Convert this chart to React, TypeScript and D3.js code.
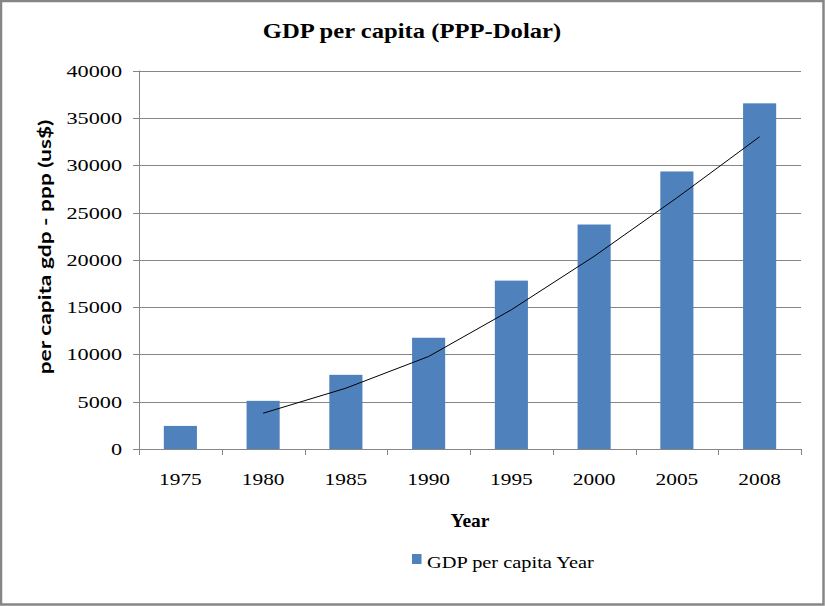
import React from 'react';
import * as d3 from 'd3';

// values
const years: string[] = ['1975', '1980', '1985', '1990', '1995', '2000', '2005', '2008'];
const gdpPerCapita: number[] = [2440, 5090, 7840, 11760, 17800, 23730, 29340, 36540];
// 2-period moving average trendline, starts at 1980
const trendYears: string[] = ['1980', '1985', '1990', '1995', '2000', '2005', '2008'];
const trendValues: number[] = [3780, 6430, 9780, 14720, 20370, 26550, 33010];
const yTicks: number[] = [0, 5000, 10000, 15000, 20000, 25000, 30000, 35000, 40000];

const W = 825;
const H = 606;
const plot = { left: 139, right: 801, top: 70.6, bottom: 449 };
const serif = '"Times New Roman", "Liberation Serif", serif';
const grey = '#868686';
const barColor = '#4F81BD';

// the text in the picture is a bit wide, so stretch it horizontally
const Txt: React.FC<{ x: number; y: number; sx?: number; size: number; bold?: boolean; anchor?: string; family?: string; children: React.ReactNode }> =
  ({ x, y, sx = 1.2, size, bold, anchor = 'middle', family = serif, children }) => (
    <text transform={`translate(${x},${y}) scale(${sx},1)`} fontFamily={family} fontSize={size}
      fontWeight={bold ? 'bold' : 'normal'} textAnchor={anchor} fill="#000">{children}</text>
  );

export default function App() {
  const x = d3.scaleBand<string>().domain(years).range([plot.left, plot.right]).paddingInner(0).paddingOuter(0);
  const y = d3.scaleLinear().domain([0, 40000]).range([plot.bottom, plot.top]);
  const barW = x.bandwidth() * 0.4;
  const cx = (c: string) => (x(c) as number) + x.bandwidth() / 2;

  const trend = d3.line<number>()
    .x((_, i) => cx(trendYears[i]))
    .y(d => y(d));

  const boundaries = years.map(c => x(c) as number).concat([plot.right]);

  return (
    <svg width={W} height={H} style={{ position: 'absolute', left: 0, top: 0, background: '#fff' }}>
      <rect x={1} y={1} width={W - 2.5} height={H - 2.5} fill="#fff" stroke={grey} strokeWidth={2.5} />

      <Txt x={412} y={38} size={22} sx={1.12} bold>GDP per capita (PPP-Dolar)</Txt>

      {/* gridlines + y ticks */}
      {yTicks.map(t => (
        <g key={t}>
          <line x1={plot.left} x2={plot.right} y1={Math.round(y(t)) + 0.5} y2={Math.round(y(t)) + 0.5} stroke={grey} strokeWidth={1} />
          <line x1={plot.left - 6} x2={plot.left} y1={Math.round(y(t)) + 0.5} y2={Math.round(y(t)) + 0.5} stroke={grey} strokeWidth={1} />
          <Txt x={122} y={y(t) + 6} size={17.5} sx={1.27} anchor="end">{t}</Txt>
        </g>
      ))}

      {/* y axis line */}
      <line x1={plot.left + 0.5} x2={plot.left + 0.5} y1={plot.top} y2={plot.bottom + 6} stroke={grey} strokeWidth={1} />

      {/* x tick marks at category boundaries */}
      {boundaries.map((b, i) => (
        <line key={i} x1={Math.round(b) + 0.5} x2={Math.round(b) + 0.5} y1={plot.bottom} y2={plot.bottom + 6} stroke={grey} strokeWidth={1} />
      ))}

      {/* bars */}
      {years.map((c, i) => (
        <rect key={c} x={cx(c) - barW / 2} y={y(gdpPerCapita[i])} width={barW}
          height={y(0) - y(gdpPerCapita[i])} fill={barColor} />
      ))}

      {/* trendline */}
      <path d={trend(trendValues) || ''} fill="none" stroke="#000" strokeWidth={1} />

      {/* x axis labels */}
      {years.map(c => (
        <Txt key={c} x={cx(c)} y={485} size={17.5} sx={1.22}>{c}</Txt>
      ))}

      <Txt x={470} y={527} size={18} sx={1.08} bold>Year</Txt>

      <g transform="translate(45,247) rotate(-90) scale(1.3,1)">
        <text x={0} y={6} textAnchor="middle" fontFamily="Lato, 'Noto Sans', sans-serif" fontWeight="bold" fontSize={17.5} fill="#000">
          per capita gdp - ppp (us$)
        </text>
      </g>

      {/* legend */}
      <rect x={412} y={554} width={9.5} height={10} fill={barColor} />
      <Txt x={427} y={568} size={17} anchor="start">GDP per capita Year</Txt>
    </svg>
  );
}
